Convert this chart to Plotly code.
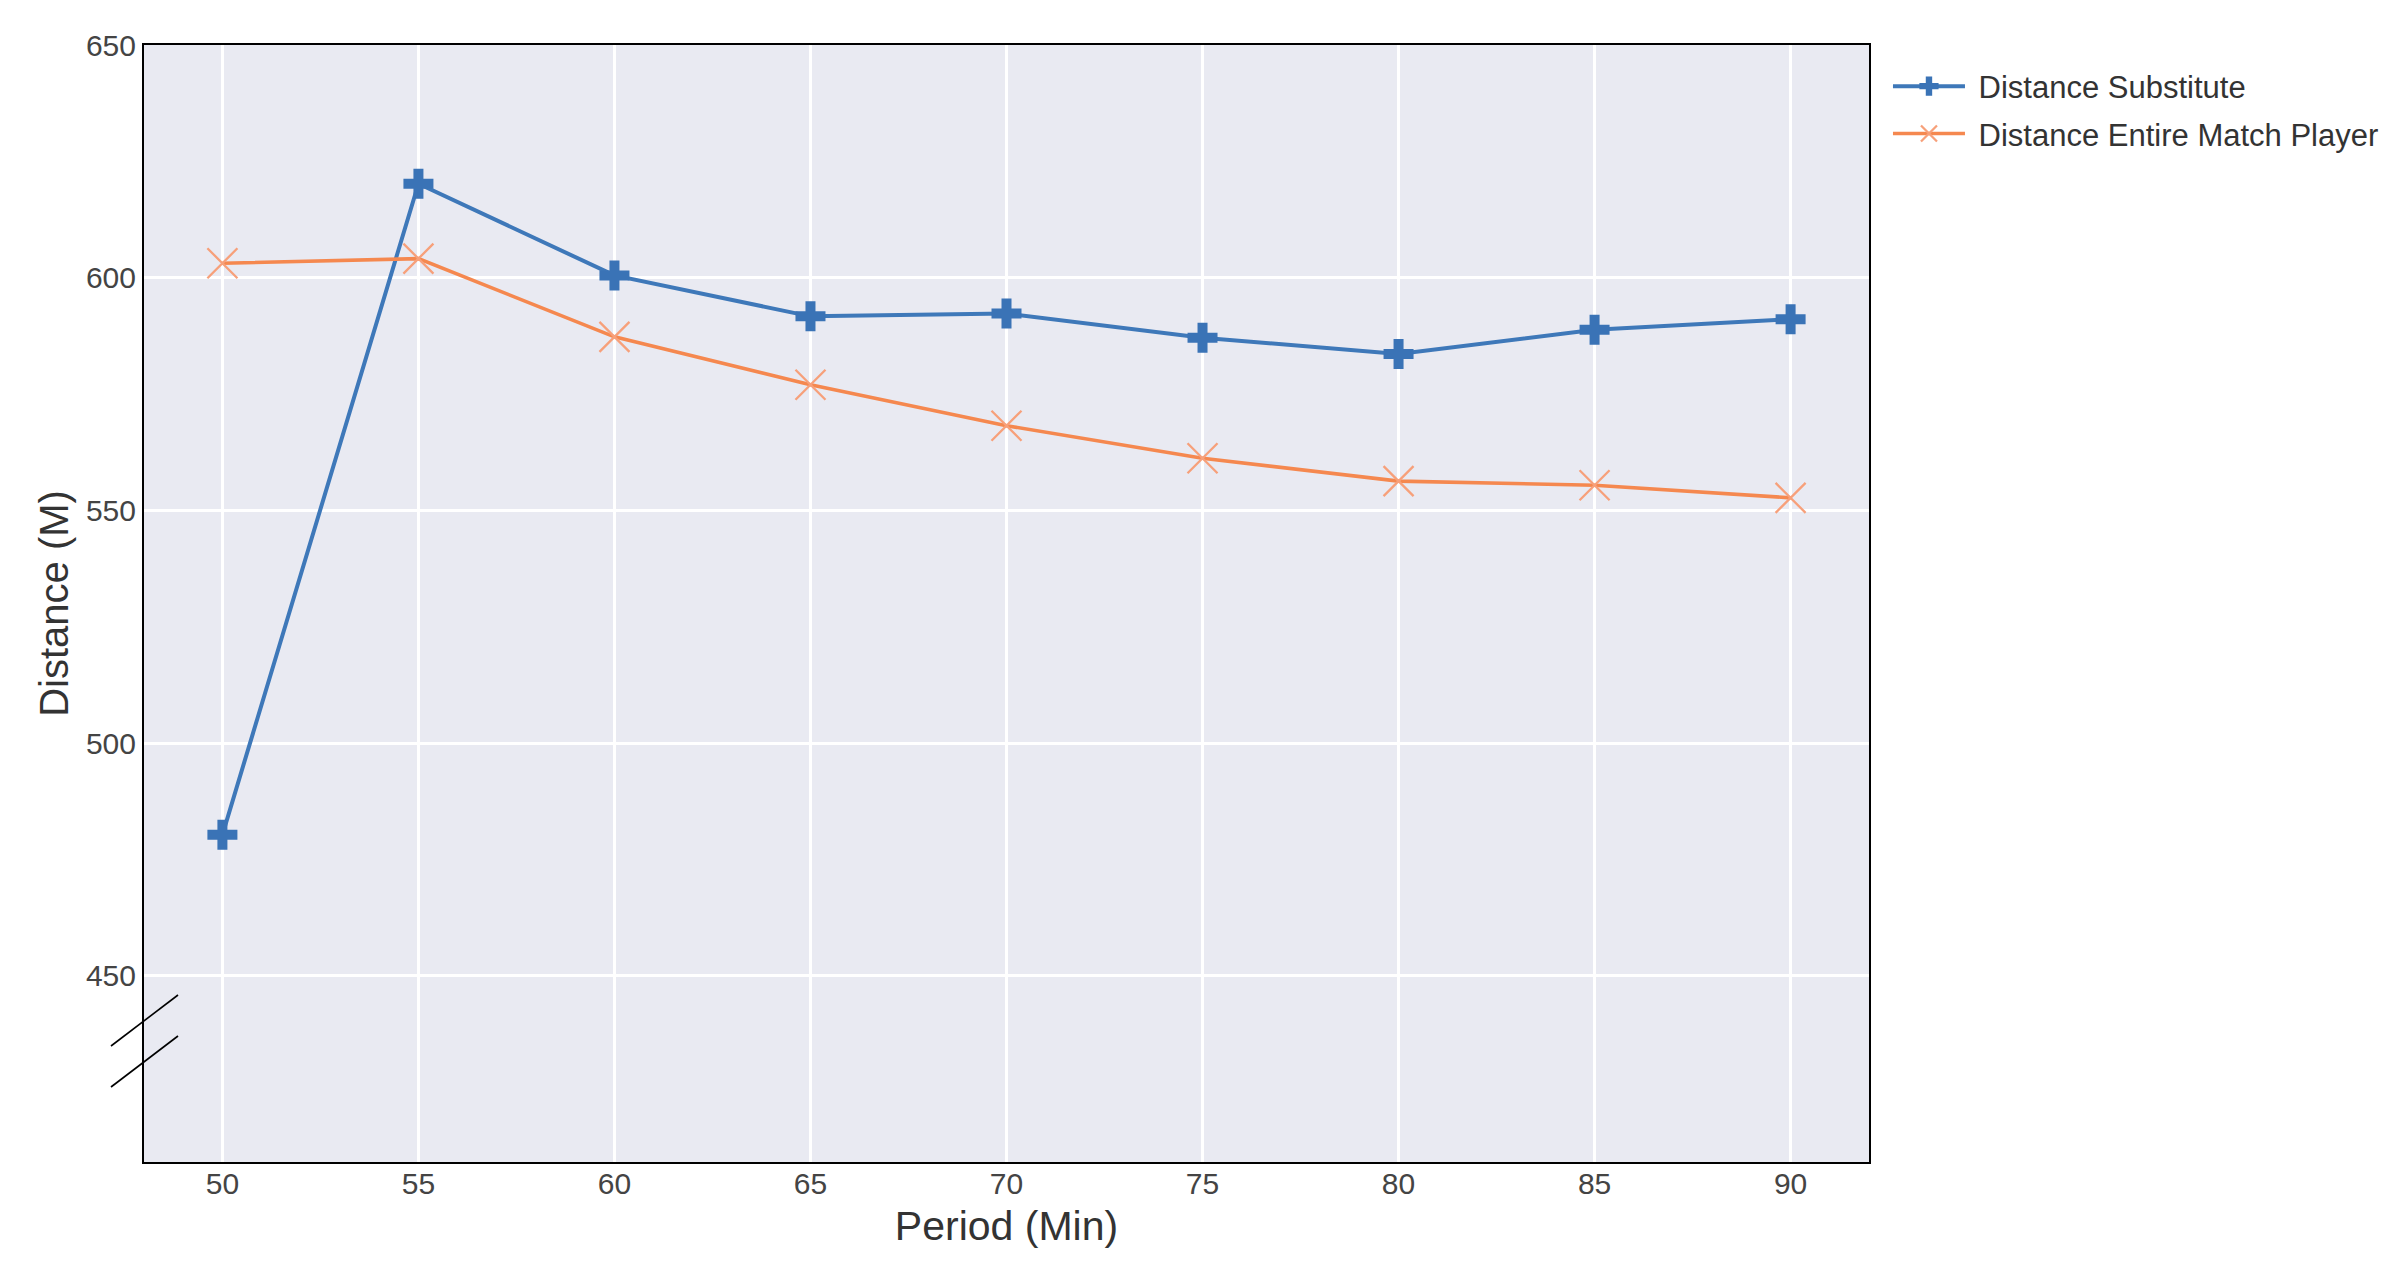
import plotly.graph_objects as go

periods = [50, 55, 60, 65, 70, 75, 80, 85, 90]
distance_substitute = [480.3, 620.2, 600.5, 591.7, 592.3, 587.1, 583.6, 588.8, 591.1]
distance_entire = [603.1, 604.1, 587.3, 577.0, 568.2, 561.2, 556.3, 555.4, 552.7]
x_ticks = [50, 55, 60, 65, 70, 75, 80, 85, 90]
y_ticks = [450, 500, 550, 600, 650]

# page body has an 8px margin; figure sized to fit inside the window
W, H = 2391, 1257
L, T = 136, 37
R = W - 1861
B = H - 1154

fig = go.Figure()
fig.add_trace(go.Scatter(
    x=periods, y=distance_substitute, mode="lines+markers",
    name=" Distance Substitute", legendgroup="a",
    line=dict(color="#3E78B9", width=4),
    marker=dict(symbol="cross", size=25, color="#3A73B6", line=dict(width=0)),
))
fig.add_trace(go.Scatter(
    x=periods, y=distance_entire, mode="lines+markers",
    name=" Distance Entire Match Player", legendgroup="b",
    line=dict(color="#F5884F", width=3.6),
    marker=dict(symbol="x-thin", size=30, color="#F7A07A",
                line=dict(width=2.3, color="#F7A07A")),
))

pw = W - L - R
ph = H - T - B
def px(x):
    return (x - 8 - L) / pw
def py(y):
    return (H - B - (y - 8)) / ph

shapes = []
for (x0, y0, x1, y1) in [(111, 1046, 178, 995), (111, 1087, 178, 1036)]:
    shapes.append(dict(type="line", xref="paper", yref="paper",
                       x0=px(x0), y0=py(y0), x1=px(x1), y1=py(y1),
                       line=dict(color="black", width=1.6), layer="above"))

fig.update_layout(
    width=W, height=H,
    margin=dict(l=L, r=R, t=T, b=B),
    paper_bgcolor="white",
    plot_bgcolor="#E9EAF2",
    font=dict(family="Liberation Sans, Arial, sans-serif", color="#333333"),
    showlegend=True,
    legend=dict(x=1.011, y=0.987, xanchor="left", yanchor="top",
                font=dict(size=31, color="#333333"), traceorder="grouped",
                bgcolor="rgba(0,0,0,0)", itemwidth=72, tracegroupgap=4),
    shapes=shapes,
)
fig.update_xaxes(
    range=[48, 92], tickvals=x_ticks, ticktext=[str(v) for v in x_ticks],
    showgrid=True, gridcolor="white", gridwidth=3,
    zeroline=False, showline=True, linecolor="black", linewidth=2, mirror=True,
    ticks="", tickfont=dict(size=30, color="#444444"), ticklabelstandoff=-6,
    title=dict(text="Period (Min)", font=dict(size=41, color="#333333"), standoff=12),
)
fig.update_yaxes(
    range=[410, 650], tickvals=y_ticks, ticktext=[str(v) for v in y_ticks],
    showgrid=True, gridcolor="white", gridwidth=3,
    zeroline=False, showline=True, linecolor="black", linewidth=2, mirror=True,
    ticks="", tickfont=dict(size=30, color="#444444"),
    title=dict(text="Distance (M)", font=dict(size=40, color="#333333"), standoff=5),
)

fig.write_html("out.html", config={"displayModeBar": False})
